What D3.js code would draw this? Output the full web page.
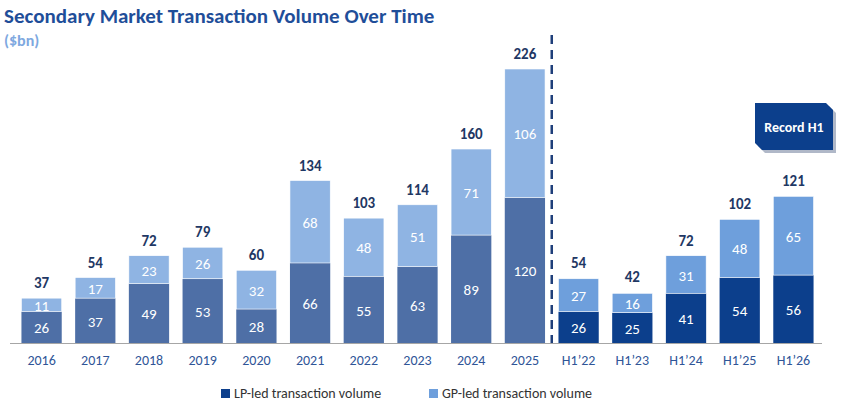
<!DOCTYPE html>
<html><head><meta charset="utf-8">
<script src="https://cdn.jsdelivr.net/npm/d3@7"></script>
<style>body{margin:0;background:#fff}text{font-family:Calibri,Carlito,"Open Sans",sans-serif}</style>
</head><body>
<script>
var categories = ["2016","2017","2018","2019","2020","2021","2022","2023","2024","2025","H1\u201922","H1\u201923","H1\u201924","H1\u201925","H1\u201926"];
var lpValues = [26,37,49,53,28,66,55,63,89,120,26,25,41,54,56];
var gpValues = [11,17,23,26,32,68,48,51,71,106,27,16,31,48,65];
var totals = [37,54,72,79,60,134,103,114,160,226,54,42,72,102,121];

var W = 856, H = 412;
var svg = d3.select("body").append("svg").attr("width", W).attr("height", H);

var x = d3.scaleBand().domain(categories).range([15, 820]).paddingInner(0.25).paddingOuter(0.12);
var y = d3.scaleLinear().domain([0, 226]).range([343, 69]);

function isH1(c) { return c.indexOf("H1") === 0; }
var lpCol = function(c){ return isH1(c) ? "#0c3f8c" : "#4e6fa6"; };
var gpCol = function(c){ return isH1(c) ? "#6e9fdc" : "#8fb4e3"; };

svg.append("text").attr("x", 4).attr("y", 23).attr("font-size", 21).attr("font-weight", "bold")
  .attr("fill", "#1f4e99").text("Secondary Market Transaction Volume Over Time");
svg.append("text").attr("x", 4).attr("y", 46).attr("font-size", 16).attr("font-weight", "bold")
  .attr("fill", "#7ea8e0").text("($bn)");

var g = svg.selectAll("g.bar").data(categories).enter().append("g");
g.append("rect").attr("x", function(c){return x(c);}).attr("width", x.bandwidth())
  .attr("y", function(c,i){return y(lpValues[i]);})
  .attr("height", function(c,i){return y(0)-y(lpValues[i]);}).attr("fill", lpCol);
g.append("rect").attr("x", function(c){return x(c);}).attr("width", x.bandwidth())
  .attr("y", function(c,i){return y(lpValues[i]+gpValues[i]);})
  .attr("height", function(c,i){return y(lpValues[i])-y(lpValues[i]+gpValues[i]);})
  .attr("fill", gpCol).attr("stroke", "#fff").attr("stroke-width", 0.6);
g.append("text").attr("x", function(c){return x(c)+x.bandwidth()/2;})
  .attr("y", function(c,i){return (y(0)+y(lpValues[i]))/2+6;})
  .attr("text-anchor","middle").attr("font-size",15).attr("fill","#fff")
  .text(function(c,i){return lpValues[i];});
g.append("text").attr("x", function(c){return x(c)+x.bandwidth()/2;})
  .attr("y", function(c,i){return (y(lpValues[i])+y(lpValues[i]+gpValues[i]))/2+6;})
  .attr("text-anchor","middle").attr("font-size",15).attr("fill","#fff")
  .text(function(c,i){return gpValues[i];});
g.append("text").attr("x", function(c){return x(c)+x.bandwidth()/2;})
  .attr("y", function(c,i){return y(totals[i])-10;})
  .attr("text-anchor","middle").attr("font-size",15).attr("font-weight","bold").attr("fill","#1f3864")
  .text(function(c,i){return totals[i];});

var axis = svg.append("g").attr("transform","translate(0,343)")
  .call(d3.axisBottom(x).tickSize(0).tickPadding(12));
axis.select(".domain").attr("stroke","#a6a6a6").attr("d","M10,0.5H822");
axis.selectAll("text").attr("font-size",14).attr("fill","#2f5597")
  .style("font-family","Calibri,Carlito,'Open Sans',sans-serif");

var sepX = (x("2025")+x.bandwidth()+x("H1\u201922"))/2;
svg.append("line").attr("x1",sepX).attr("x2",sepX).attr("y1",35).attr("y2",343)
  .attr("stroke","#1f3f7a").attr("stroke-width",2.5).attr("stroke-dasharray","9,6");

// Record H1 badge
var bx=755, by=103, bw=78, bh=47, c=7;
var pts=[[bx,by],[bx+bw-c,by],[bx+bw,by+c],[bx+bw,by+bh],[bx+c,by+bh],[bx,by+bh-c]];
svg.append("polygon").attr("points",pts.map(function(p){return (p[0]+3)+","+(p[1]+3);}).join(" ")).attr("fill","#b0b8c8");
svg.append("polygon").attr("points",pts.map(function(p){return p.join(",");}).join(" ")).attr("fill","#0c3f8c");
svg.append("text").attr("x",bx+bw/2).attr("y",by+bh/2+5).attr("text-anchor","middle")
  .attr("font-size",14).attr("font-weight","bold").attr("fill","#fff").text("Record H1");

// legend
var legend = [["LP-led transaction volume","#0c3f8c",221],["GP-led transaction volume","#6e9fdc",429]];
legend.forEach(function(l){
  svg.append("rect").attr("x",l[2]).attr("y",389).attr("width",9).attr("height",9).attr("fill",l[1]);
  svg.append("text").attr("x",l[2]+13).attr("y",398).attr("font-size",14).attr("fill","#333").text(l[0]);
});
</script>
</body></html>
